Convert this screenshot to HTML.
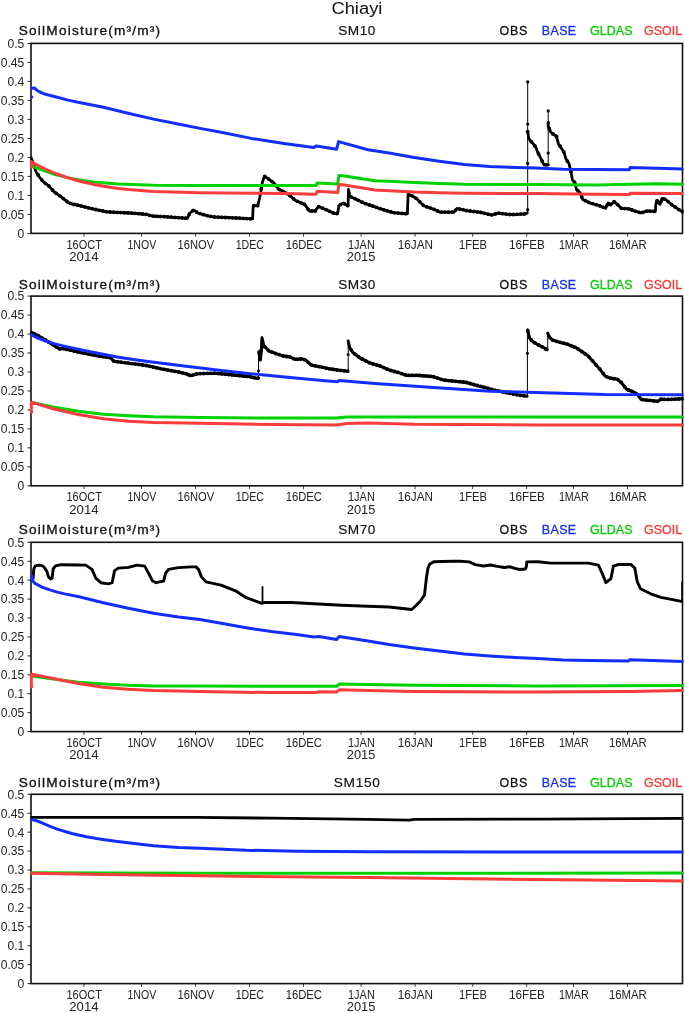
<!DOCTYPE html><html><head><meta charset="utf-8"><style>html,body{margin:0;padding:0;background:#fff;}svg{display:block;will-change:transform;} text{font-family:"Liberation Sans",sans-serif;}</style></head><body>
<svg width="685" height="1013" viewBox="0 0 685 1013">
<rect width="685" height="1013" fill="#fff"/>
<text x="331.4" y="14" font-size="17.3" textLength="51" lengthAdjust="spacingAndGlyphs" fill="#111">Chiayi</text>
<text transform="translate(18.80,35.00) scale(1.1,1)" x="0" y="0" font-size="12.4" text-anchor="start" fill="#111" textLength="128.45" lengthAdjust="spacing" stroke="#111" stroke-width="0.3">SoilMoisture(m³/m³)</text>
<text transform="translate(356.80,35.00) scale(1.1,1)" x="0" y="0" font-size="12.4" text-anchor="middle" fill="#111" textLength="33.82" lengthAdjust="spacing" stroke="#111" stroke-width="0.15">SM10</text>
<text x="499.50" y="35.00" font-size="12.4" text-anchor="start" fill="#111" textLength="27.7" lengthAdjust="spacing" stroke="#111" stroke-width="0.3">OBS</text>
<text x="541.80" y="35.00" font-size="12.4" text-anchor="start" fill="rgb(20,45,255)" textLength="34.3" lengthAdjust="spacing" stroke="rgb(20,45,255)" stroke-width="0.3">BASE</text>
<text x="590.10" y="35.00" font-size="12.4" text-anchor="start" fill="rgb(0,210,0)" textLength="42.3" lengthAdjust="spacing" stroke="rgb(0,210,0)" stroke-width="0.3">GLDAS</text>
<text x="644.10" y="35.00" font-size="12.4" text-anchor="start" fill="rgb(250,60,60)" textLength="38.0" lengthAdjust="spacing" stroke="rgb(250,60,60)" stroke-width="0.3">GSOIL</text>
<text x="24.30" y="237.75" font-size="12.1" text-anchor="end" fill="#222">0</text>
<line x1="27.5" y1="233.40" x2="31.0" y2="233.40" stroke="#222" stroke-width="1"/>
<text x="24.30" y="218.75" font-size="12.1" text-anchor="end" fill="#222">0.05</text>
<line x1="27.5" y1="214.40" x2="31.0" y2="214.40" stroke="#222" stroke-width="1"/>
<text x="24.30" y="199.75" font-size="12.1" text-anchor="end" fill="#222">0.1</text>
<line x1="27.5" y1="195.40" x2="31.0" y2="195.40" stroke="#222" stroke-width="1"/>
<text x="24.30" y="180.75" font-size="12.1" text-anchor="end" fill="#222">0.15</text>
<line x1="27.5" y1="176.40" x2="31.0" y2="176.40" stroke="#222" stroke-width="1"/>
<text x="24.30" y="161.75" font-size="12.1" text-anchor="end" fill="#222">0.2</text>
<line x1="27.5" y1="157.40" x2="31.0" y2="157.40" stroke="#222" stroke-width="1"/>
<text x="24.30" y="142.75" font-size="12.1" text-anchor="end" fill="#222">0.25</text>
<line x1="27.5" y1="138.40" x2="31.0" y2="138.40" stroke="#222" stroke-width="1"/>
<text x="24.30" y="123.75" font-size="12.1" text-anchor="end" fill="#222">0.3</text>
<line x1="27.5" y1="119.40" x2="31.0" y2="119.40" stroke="#222" stroke-width="1"/>
<text x="24.30" y="104.75" font-size="12.1" text-anchor="end" fill="#222">0.35</text>
<line x1="27.5" y1="100.40" x2="31.0" y2="100.40" stroke="#222" stroke-width="1"/>
<text x="24.30" y="85.75" font-size="12.1" text-anchor="end" fill="#222">0.4</text>
<line x1="27.5" y1="81.40" x2="31.0" y2="81.40" stroke="#222" stroke-width="1"/>
<text x="24.30" y="66.75" font-size="12.1" text-anchor="end" fill="#222">0.45</text>
<line x1="27.5" y1="62.40" x2="31.0" y2="62.40" stroke="#222" stroke-width="1"/>
<text x="24.30" y="47.75" font-size="12.1" text-anchor="end" fill="#222">0.5</text>
<line x1="27.5" y1="43.40" x2="31.0" y2="43.40" stroke="#222" stroke-width="1"/>
<line x1="83.90" y1="233.4" x2="83.90" y2="236.70" stroke="#444" stroke-width="1"/>
<text x="84.20" y="248.90" font-size="13.0" text-anchor="middle" fill="#222" textLength="35.4" lengthAdjust="spacingAndGlyphs">16OCT</text>
<text x="83.90" y="261.20" font-size="13.0" text-anchor="middle" fill="#222" textLength="29.200000000000003" lengthAdjust="spacingAndGlyphs">2014</text>
<line x1="141.50" y1="233.4" x2="141.50" y2="236.70" stroke="#444" stroke-width="1"/>
<text x="141.80" y="248.90" font-size="13.0" text-anchor="middle" fill="#222" textLength="28.8" lengthAdjust="spacingAndGlyphs">1NOV</text>
<line x1="195.50" y1="233.4" x2="195.50" y2="236.70" stroke="#444" stroke-width="1"/>
<text x="195.80" y="248.90" font-size="13.0" text-anchor="middle" fill="#222" textLength="36.699999999999996" lengthAdjust="spacingAndGlyphs">16NOV</text>
<line x1="249.50" y1="233.4" x2="249.50" y2="236.70" stroke="#444" stroke-width="1"/>
<text x="249.80" y="248.90" font-size="13.0" text-anchor="middle" fill="#222" textLength="28.3" lengthAdjust="spacingAndGlyphs">1DEC</text>
<line x1="303.50" y1="233.4" x2="303.50" y2="236.70" stroke="#444" stroke-width="1"/>
<text x="303.80" y="248.90" font-size="13.0" text-anchor="middle" fill="#222" textLength="36.3" lengthAdjust="spacingAndGlyphs">16DEC</text>
<line x1="361.10" y1="233.4" x2="361.10" y2="236.70" stroke="#444" stroke-width="1"/>
<text x="361.40" y="248.90" font-size="13.0" text-anchor="middle" fill="#222" textLength="26.8" lengthAdjust="spacingAndGlyphs">1JAN</text>
<text x="361.10" y="261.20" font-size="13.0" text-anchor="middle" fill="#222" textLength="28.6" lengthAdjust="spacingAndGlyphs">2015</text>
<line x1="415.10" y1="233.4" x2="415.10" y2="236.70" stroke="#444" stroke-width="1"/>
<text x="415.40" y="248.90" font-size="13.0" text-anchor="middle" fill="#222" textLength="35.3" lengthAdjust="spacingAndGlyphs">16JAN</text>
<line x1="472.70" y1="233.4" x2="472.70" y2="236.70" stroke="#444" stroke-width="1"/>
<text x="473.00" y="248.90" font-size="13.0" text-anchor="middle" fill="#222" textLength="27.8" lengthAdjust="spacingAndGlyphs">1FEB</text>
<line x1="526.70" y1="233.4" x2="526.70" y2="236.70" stroke="#444" stroke-width="1"/>
<text x="527.00" y="248.90" font-size="13.0" text-anchor="middle" fill="#222" textLength="35.8" lengthAdjust="spacingAndGlyphs">16FEB</text>
<line x1="573.50" y1="233.4" x2="573.50" y2="236.70" stroke="#444" stroke-width="1"/>
<text x="573.80" y="248.90" font-size="13.0" text-anchor="middle" fill="#222" textLength="29.8" lengthAdjust="spacingAndGlyphs">1MAR</text>
<line x1="627.50" y1="233.4" x2="627.50" y2="236.70" stroke="#444" stroke-width="1"/>
<text x="627.80" y="248.90" font-size="13.0" text-anchor="middle" fill="#222" textLength="37.8" lengthAdjust="spacingAndGlyphs">16MAR</text>
<rect x="31.0" y="43.4" width="651.5" height="190.0" fill="none" stroke="#111" stroke-width="1.6"/>
<clipPath id="c0"><rect x="29.5" y="41.4" width="654.0" height="192.0"/></clipPath>
<g clip-path="url(#c0)" fill="none" stroke-linejoin="round" stroke-linecap="round">
<polyline points="31.3,157.9 34.6,167.1 35.9,171.7 39.8,177.6 43.8,182.2 49.0,186.1 54.3,192.0 60.9,196.6 67.4,201.9 71.4,203.9 80.6,205.8 93.7,209.1 106.8,211.8 115.0,212.3 130.0,213.0 146.5,214.3 151.8,216.0 167.6,216.9 187.3,218.3 189.9,213.0 193.8,210.0 197.8,213.0 200.0,213.6 206.6,215.5 213.1,216.9 226.3,217.5 239.4,218.2 252.6,218.9 253.2,205.7 257.8,205.7 259.8,197.2 261.1,190.0 262.4,182.1 264.4,176.2 268.3,178.8 273.6,182.7 278.8,189.3 285.4,192.6 290.3,195.9 295.5,200.5 304.7,204.4 309.3,211.0 315.2,211.0 318.5,206.4 324.4,209.0 334.9,213.6 337.6,213.6 338.9,205.7 342.8,203.1 348.1,205.7 348.5,189.3 350.0,196.5 356.0,199.2 363.8,203.1 370.0,205.2 381.7,209.2 393.4,212.7 407.4,213.9 408.1,194.5 412.1,195.9 416.7,198.7 423.7,205.7 435.4,209.9 440.1,212.2 454.1,212.2 456.9,208.5 468.1,210.8 479.8,212.2 491.5,215.0 498.5,213.2 510.2,214.6 525.4,213.9 527.2,213.0" stroke="#000" stroke-width="2.8"/>
<path d="M34.5 166.8h0M38.1 175.0h0M41.7 179.8h0M45.3 183.3h0M48.9 186.0h0M52.5 190.0h0M56.1 193.3h0M59.7 195.8h0M63.3 198.6h0M66.9 201.5h0M70.5 203.4h0M74.1 204.5h0M77.7 205.2h0M81.3 206.0h0M84.9 206.9h0M88.5 207.8h0M92.1 208.7h0M95.7 209.5h0M99.3 210.3h0M102.9 211.0h0M106.5 211.7h0M110.1 212.0h0M113.7 212.2h0M117.3 212.4h0M120.9 212.6h0M124.5 212.7h0M128.1 212.9h0M131.7 213.1h0M135.3 213.4h0M138.9 213.7h0M142.5 214.0h0M146.1 214.3h0M149.7 215.3h0M153.3 216.1h0M156.9 216.3h0M160.5 216.5h0M164.1 216.7h0M167.7 216.9h0M171.3 217.2h0M174.9 217.4h0M178.5 217.7h0M182.1 217.9h0M185.7 218.2h0M189.3 214.2h0M192.9 210.7h0M196.5 212.0h0M200.1 213.6h0M203.7 214.7h0M207.3 215.7h0M210.9 216.4h0M214.5 217.0h0M218.1 217.1h0M221.7 217.3h0M225.3 217.5h0M228.9 217.6h0M232.5 217.8h0M236.1 218.0h0M239.7 218.2h0M243.3 218.4h0M246.9 218.6h0M250.5 218.8h0M254.1 205.7h0M257.7 205.7h0M261.3 188.8h0M264.9 176.5h0M268.5 178.9h0M272.1 181.6h0M275.7 185.4h0M279.3 189.6h0M282.9 191.3h0M286.5 193.3h0M290.1 195.8h0M293.7 198.9h0M297.3 201.3h0M300.9 202.8h0M304.5 204.3h0M308.1 209.3h0M311.7 211.0h0M315.3 210.9h0M318.9 206.6h0M322.5 208.2h0M326.1 209.7h0M329.7 211.3h0M333.3 212.9h0M336.9 213.6h0M340.5 204.6h0M344.1 203.7h0M347.7 205.5h0M351.3 197.1h0M354.9 198.7h0M358.5 200.4h0M362.1 202.2h0M365.7 203.7h0M369.3 205.0h0M372.9 206.2h0M376.5 207.4h0M380.1 208.7h0M383.7 209.8h0M387.3 210.9h0M390.9 212.0h0M394.5 212.8h0M398.1 213.1h0M401.7 213.4h0M405.3 213.7h0M408.9 194.8h0M412.5 196.1h0M416.1 198.3h0M419.7 201.7h0M423.3 205.3h0M426.9 206.8h0M430.5 208.1h0M434.1 209.4h0M437.7 211.0h0M441.3 212.2h0M444.9 212.2h0M448.5 212.2h0M452.1 212.2h0M455.7 210.1h0M459.3 209.0h0M462.9 209.7h0M466.5 210.5h0M470.1 211.0h0M473.7 211.5h0M477.3 211.9h0M480.9 212.5h0M484.5 213.3h0M488.1 214.2h0M491.7 214.9h0M495.3 214.0h0M498.9 213.2h0M502.5 213.7h0M506.1 214.1h0M509.7 214.5h0M513.3 214.5h0M516.9 214.3h0M520.5 214.1h0M524.1 214.0h0" stroke="#000" stroke-width="3.8"/>
<polyline points="527.7,212.6 527.7,81.9" stroke="#000" stroke-width="1.0"/>
<polyline points="527.7,131.7 528.8,138.6 531.6,142.0 535.7,146.9 537.8,152.4 540.6,157.9 544.0,164.8 547.5,164.8" stroke="#000" stroke-width="2.8"/>
<path d="M527.7 131.7h0M531.3 141.6h0M534.9 145.9h0M538.5 153.8h0M542.1 160.9h0M545.7 164.8h0" stroke="#000" stroke-width="3.8"/>
<polyline points="548.2,164.8 548.2,110.9" stroke="#000" stroke-width="1.0"/>
<polyline points="548.2,122.7 548.2,126.1 550.9,132.4 556.5,136.5 558.5,144.1 560.6,146.9 564.1,152.4 566.1,159.3 568.9,163.4 571.0,171.7 572.4,180.0 575.1,182.8 576.5,189.7 580.0,192.5 582.7,199.4 589.6,202.8 595.0,204.3 600.3,206.0 605.5,208.3 608.1,203.0 610.8,204.7 614.1,201.7 618.0,205.0 621.3,208.3 629.2,208.9 634.4,210.9 641.0,212.9 647.6,210.9 655.4,211.5 655.7,205.6 656.8,200.4 660.0,204.3 662.0,198.4 666.0,199.7 671.2,204.3 677.8,208.9 683.0,212.0" stroke="#000" stroke-width="2.8"/>
<path d="M549.3 128.7h0M552.9 133.9h0M556.5 136.5h0M560.1 146.2h0M563.7 151.8h0M567.3 161.1h0M570.9 171.3h0M574.5 182.2h0M578.1 191.0h0M581.7 196.8h0M585.3 200.7h0M588.9 202.5h0M592.5 203.6h0M596.1 204.7h0M599.7 205.8h0M603.3 207.3h0M606.9 205.4h0M610.5 204.5h0M614.1 201.7h0M617.7 204.7h0M621.3 208.3h0M624.9 208.6h0M628.5 208.8h0M632.1 210.0h0M635.7 211.3h0M639.3 212.4h0M642.9 212.3h0M646.5 211.2h0M650.1 211.1h0M653.7 211.4h0M657.3 201.0h0M660.9 201.6h0M664.5 199.2h0M668.1 201.6h0M671.7 204.6h0M675.3 207.2h0M678.9 209.6h0M682.5 211.7h0" stroke="#000" stroke-width="3.8"/>
<circle cx="527.7" cy="81.9" r="1.6" fill="#000" stroke="none"/>
<circle cx="527.7" cy="124.1" r="1.6" fill="#000" stroke="none"/>
<circle cx="527.7" cy="163.4" r="1.6" fill="#000" stroke="none"/>
<circle cx="527.7" cy="209.7" r="1.6" fill="#000" stroke="none"/>
<circle cx="548.2" cy="110.9" r="1.6" fill="#000" stroke="none"/>
<circle cx="548.2" cy="122.7" r="1.6" fill="#000" stroke="none"/>
<circle cx="548.2" cy="153.1" r="1.6" fill="#000" stroke="none"/>
<circle cx="548.2" cy="164.8" r="1.6" fill="#000" stroke="none"/>
<circle cx="31.9" cy="97.0" r="1.5" fill="rgb(20,45,255)" stroke="none"/>
<polyline points="31.5,88.2 34.4,87.9 36.8,90.2 39.7,92.0 45.5,94.3 51.4,95.8 57.2,97.2 68.0,100.1 78.0,102.2 103.4,107.3 128.0,113.3 153.6,119.1 178.0,124.0 200.0,128.4 221.1,132.3 251.2,138.4 283.9,143.4 314.0,147.4 316.5,145.9 336.6,149.2 338.6,141.6 368.0,149.7 389.1,152.9 414.2,157.4 439.3,161.2 464.4,164.5 489.5,166.5 514.6,167.5 536.0,168.0 563.2,169.3 629.3,169.8 630.2,167.4 683.0,168.9" stroke="rgb(20,45,255)" stroke-width="3.0"/>
<polyline points="31.3,165.8 41.1,169.7 54.3,174.3 67.4,177.6 80.6,180.2 93.7,181.9 118.0,183.9 153.6,185.2 200.0,185.6 285.0,185.4 315.9,185.4 317.2,183.1 337.6,184.1 338.9,175.5 342.8,175.8 375.0,180.8 389.1,181.3 414.2,182.5 439.3,183.5 464.4,184.3 536.0,184.5 595.0,185.0 655.4,183.7 683.0,184.2" stroke="rgb(0,210,0)" stroke-width="3.0"/>
<polyline points="31.3,167.0 31.3,161.5 31.5,161.8 41.1,167.1 54.3,173.0 67.4,177.6 80.6,181.5 93.7,184.4 106.8,186.8 118.0,188.4 128.5,189.6 153.6,191.5 200.0,192.8 285.0,193.6 315.9,194.2 317.2,191.3 337.6,192.6 338.9,184.4 342.8,184.7 375.0,190.0 389.1,190.8 414.2,192.1 439.3,192.8 464.4,193.3 536.0,193.6 595.0,194.2 629.3,194.5 630.3,193.3 683.0,193.4" stroke="rgb(250,60,60)" stroke-width="3.0"/>
</g>
<text transform="translate(18.80,288.60) scale(1.1,1)" x="0" y="0" font-size="12.4" text-anchor="start" fill="#111" textLength="128.45" lengthAdjust="spacing" stroke="#111" stroke-width="0.3">SoilMoisture(m³/m³)</text>
<text transform="translate(356.80,288.60) scale(1.1,1)" x="0" y="0" font-size="12.4" text-anchor="middle" fill="#111" textLength="33.82" lengthAdjust="spacing" stroke="#111" stroke-width="0.15">SM30</text>
<text x="499.50" y="288.60" font-size="12.4" text-anchor="start" fill="#111" textLength="27.7" lengthAdjust="spacing" stroke="#111" stroke-width="0.3">OBS</text>
<text x="541.80" y="288.60" font-size="12.4" text-anchor="start" fill="rgb(20,45,255)" textLength="34.3" lengthAdjust="spacing" stroke="rgb(20,45,255)" stroke-width="0.3">BASE</text>
<text x="590.10" y="288.60" font-size="12.4" text-anchor="start" fill="rgb(0,210,0)" textLength="42.3" lengthAdjust="spacing" stroke="rgb(0,210,0)" stroke-width="0.3">GLDAS</text>
<text x="644.10" y="288.60" font-size="12.4" text-anchor="start" fill="rgb(250,60,60)" textLength="38.0" lengthAdjust="spacing" stroke="rgb(250,60,60)" stroke-width="0.3">GSOIL</text>
<text x="24.30" y="490.15" font-size="12.1" text-anchor="end" fill="#222">0</text>
<line x1="27.5" y1="485.80" x2="31.0" y2="485.80" stroke="#222" stroke-width="1"/>
<text x="24.30" y="471.18" font-size="12.1" text-anchor="end" fill="#222">0.05</text>
<line x1="27.5" y1="466.83" x2="31.0" y2="466.83" stroke="#222" stroke-width="1"/>
<text x="24.30" y="452.21" font-size="12.1" text-anchor="end" fill="#222">0.1</text>
<line x1="27.5" y1="447.86" x2="31.0" y2="447.86" stroke="#222" stroke-width="1"/>
<text x="24.30" y="433.24" font-size="12.1" text-anchor="end" fill="#222">0.15</text>
<line x1="27.5" y1="428.89" x2="31.0" y2="428.89" stroke="#222" stroke-width="1"/>
<text x="24.30" y="414.27" font-size="12.1" text-anchor="end" fill="#222">0.2</text>
<line x1="27.5" y1="409.92" x2="31.0" y2="409.92" stroke="#222" stroke-width="1"/>
<text x="24.30" y="395.30" font-size="12.1" text-anchor="end" fill="#222">0.25</text>
<line x1="27.5" y1="390.95" x2="31.0" y2="390.95" stroke="#222" stroke-width="1"/>
<text x="24.30" y="376.33" font-size="12.1" text-anchor="end" fill="#222">0.3</text>
<line x1="27.5" y1="371.98" x2="31.0" y2="371.98" stroke="#222" stroke-width="1"/>
<text x="24.30" y="357.36" font-size="12.1" text-anchor="end" fill="#222">0.35</text>
<line x1="27.5" y1="353.01" x2="31.0" y2="353.01" stroke="#222" stroke-width="1"/>
<text x="24.30" y="338.39" font-size="12.1" text-anchor="end" fill="#222">0.4</text>
<line x1="27.5" y1="334.04" x2="31.0" y2="334.04" stroke="#222" stroke-width="1"/>
<text x="24.30" y="319.42" font-size="12.1" text-anchor="end" fill="#222">0.45</text>
<line x1="27.5" y1="315.07" x2="31.0" y2="315.07" stroke="#222" stroke-width="1"/>
<text x="24.30" y="300.45" font-size="12.1" text-anchor="end" fill="#222">0.5</text>
<line x1="27.5" y1="296.10" x2="31.0" y2="296.10" stroke="#222" stroke-width="1"/>
<line x1="83.90" y1="485.8" x2="83.90" y2="489.10" stroke="#444" stroke-width="1"/>
<text x="84.20" y="501.30" font-size="13.0" text-anchor="middle" fill="#222" textLength="35.4" lengthAdjust="spacingAndGlyphs">16OCT</text>
<text x="83.90" y="513.60" font-size="13.0" text-anchor="middle" fill="#222" textLength="29.200000000000003" lengthAdjust="spacingAndGlyphs">2014</text>
<line x1="141.50" y1="485.8" x2="141.50" y2="489.10" stroke="#444" stroke-width="1"/>
<text x="141.80" y="501.30" font-size="13.0" text-anchor="middle" fill="#222" textLength="28.8" lengthAdjust="spacingAndGlyphs">1NOV</text>
<line x1="195.50" y1="485.8" x2="195.50" y2="489.10" stroke="#444" stroke-width="1"/>
<text x="195.80" y="501.30" font-size="13.0" text-anchor="middle" fill="#222" textLength="36.699999999999996" lengthAdjust="spacingAndGlyphs">16NOV</text>
<line x1="249.50" y1="485.8" x2="249.50" y2="489.10" stroke="#444" stroke-width="1"/>
<text x="249.80" y="501.30" font-size="13.0" text-anchor="middle" fill="#222" textLength="28.3" lengthAdjust="spacingAndGlyphs">1DEC</text>
<line x1="303.50" y1="485.8" x2="303.50" y2="489.10" stroke="#444" stroke-width="1"/>
<text x="303.80" y="501.30" font-size="13.0" text-anchor="middle" fill="#222" textLength="36.3" lengthAdjust="spacingAndGlyphs">16DEC</text>
<line x1="361.10" y1="485.8" x2="361.10" y2="489.10" stroke="#444" stroke-width="1"/>
<text x="361.40" y="501.30" font-size="13.0" text-anchor="middle" fill="#222" textLength="26.8" lengthAdjust="spacingAndGlyphs">1JAN</text>
<text x="361.10" y="513.60" font-size="13.0" text-anchor="middle" fill="#222" textLength="28.6" lengthAdjust="spacingAndGlyphs">2015</text>
<line x1="415.10" y1="485.8" x2="415.10" y2="489.10" stroke="#444" stroke-width="1"/>
<text x="415.40" y="501.30" font-size="13.0" text-anchor="middle" fill="#222" textLength="35.3" lengthAdjust="spacingAndGlyphs">16JAN</text>
<line x1="472.70" y1="485.8" x2="472.70" y2="489.10" stroke="#444" stroke-width="1"/>
<text x="473.00" y="501.30" font-size="13.0" text-anchor="middle" fill="#222" textLength="27.8" lengthAdjust="spacingAndGlyphs">1FEB</text>
<line x1="526.70" y1="485.8" x2="526.70" y2="489.10" stroke="#444" stroke-width="1"/>
<text x="527.00" y="501.30" font-size="13.0" text-anchor="middle" fill="#222" textLength="35.8" lengthAdjust="spacingAndGlyphs">16FEB</text>
<line x1="573.50" y1="485.8" x2="573.50" y2="489.10" stroke="#444" stroke-width="1"/>
<text x="573.80" y="501.30" font-size="13.0" text-anchor="middle" fill="#222" textLength="29.8" lengthAdjust="spacingAndGlyphs">1MAR</text>
<line x1="627.50" y1="485.8" x2="627.50" y2="489.10" stroke="#444" stroke-width="1"/>
<text x="627.80" y="501.30" font-size="13.0" text-anchor="middle" fill="#222" textLength="37.8" lengthAdjust="spacingAndGlyphs">16MAR</text>
<rect x="31.0" y="296.1" width="651.5" height="189.7" fill="none" stroke="#111" stroke-width="1.6"/>
<clipPath id="c1"><rect x="29.5" y="294.1" width="654.0" height="191.7"/></clipPath>
<g clip-path="url(#c1)" fill="none" stroke-linejoin="round" stroke-linecap="round">
<polyline points="31.5,332.3 38.5,335.8 45.5,340.1 52.5,344.5 59.5,348.9 63.0,348.5 80.5,352.4 98.0,355.9 110.3,357.7 113.8,361.2 133.1,363.8 145.0,365.3 162.5,369.1 180.0,372.3 187.0,374.0 190.5,375.8 197.5,373.7 215.0,373.2 232.6,374.9 250.1,376.7 257.1,378.4 258.5,378.0" stroke="#000" stroke-width="3.1"/>
<path d="M34.5 333.8h0M38.1 335.6h0M41.7 337.8h0M45.3 340.0h0M48.9 342.2h0M52.5 344.5h0M56.1 346.8h0M59.7 348.9h0M63.3 348.6h0M66.9 349.4h0M70.5 350.2h0M74.1 351.0h0M77.7 351.8h0M81.3 352.6h0M84.9 353.3h0M88.5 354.0h0M92.1 354.7h0M95.7 355.4h0M99.3 356.1h0M102.9 356.6h0M106.5 357.1h0M110.1 357.7h0M113.7 361.1h0M117.3 361.7h0M120.9 362.2h0M124.5 362.6h0M128.1 363.1h0M131.7 363.6h0M135.3 364.1h0M138.9 364.5h0M142.5 365.0h0M146.1 365.5h0M149.7 366.3h0M153.3 367.1h0M156.9 367.9h0M160.5 368.7h0M164.1 369.4h0M167.7 370.1h0M171.3 370.7h0M174.9 371.4h0M178.5 372.0h0M182.1 372.8h0M185.7 373.7h0M189.3 375.2h0M192.9 375.1h0M196.5 374.0h0M200.1 373.6h0M203.7 373.5h0M207.3 373.4h0M210.9 373.3h0M214.5 373.2h0M218.1 373.5h0M221.7 373.8h0M225.3 374.2h0M228.9 374.5h0M232.5 374.9h0M236.1 375.3h0M239.7 375.6h0M243.3 376.0h0M246.9 376.4h0M250.5 376.8h0M254.1 377.7h0M257.7 378.2h0" stroke="#000" stroke-width="3.8"/>
<polyline points="258.5,378.2 258.5,351.0" stroke="#000" stroke-width="1.0"/>
<polyline points="258.8,351.9 260.3,360.0 261.2,352.0 262.0,337.9 263.8,345.8 265.5,347.5 269.0,351.0 276.0,353.6 283.0,355.9 290.0,357.1 295.3,359.4 302.3,358.9 305.8,360.1 311.0,365.0 319.8,366.8 330.3,368.9 339.1,370.3 347.8,371.2" stroke="#000" stroke-width="3.1"/>
<path d="M261.3 350.2h0M264.9 346.9h0M268.5 350.5h0M272.1 352.2h0M275.7 353.5h0M279.3 354.7h0M282.9 355.9h0M286.5 356.5h0M290.1 357.1h0M293.7 358.7h0M297.3 359.3h0M300.9 359.0h0M304.5 359.7h0M308.1 362.3h0M311.7 365.1h0M315.3 365.9h0M318.9 366.6h0M322.5 367.3h0M326.1 368.1h0M329.7 368.8h0M333.3 369.4h0M336.9 369.9h0M340.5 370.4h0M344.1 370.8h0M347.7 371.2h0" stroke="#000" stroke-width="3.8"/>
<polyline points="348.2,371.2 348.2,340.9" stroke="#000" stroke-width="1.0"/>
<polyline points="348.2,341.0 349.6,347.5 353.1,352.8 360.1,358.0 367.1,361.5 370.0,363.1 380.5,366.1 389.3,370.1 398.0,372.4 406.8,375.4 419.0,375.4 433.0,376.6 443.6,380.1 457.6,381.5 466.3,382.4 478.6,385.9 485.0,387.4 493.8,390.0 502.5,391.8 511.3,393.6 520.0,395.3 527.0,396.2" stroke="#000" stroke-width="3.1"/>
<path d="M351.3 350.1h0M354.9 354.1h0M358.5 356.8h0M362.1 359.0h0M365.7 360.8h0M369.3 362.7h0M372.9 363.9h0M376.5 365.0h0M380.1 366.0h0M383.7 367.6h0M387.3 369.2h0M390.9 370.5h0M394.5 371.5h0M398.1 372.4h0M401.7 373.7h0M405.3 374.9h0M408.9 375.4h0M412.5 375.4h0M416.1 375.4h0M419.7 375.5h0M423.3 375.8h0M426.9 376.1h0M430.5 376.4h0M434.1 377.0h0M437.7 378.2h0M441.3 379.3h0M444.9 380.2h0M448.5 380.6h0M452.1 380.9h0M455.7 381.3h0M459.3 381.7h0M462.9 382.0h0M466.5 382.5h0M470.1 383.5h0M473.7 384.5h0M477.3 385.5h0M480.9 386.4h0M484.5 387.3h0M488.1 388.3h0M491.7 389.4h0M495.3 390.3h0M498.9 391.1h0M502.5 391.8h0M506.1 392.5h0M509.7 393.3h0M513.3 394.0h0M516.9 394.7h0M520.5 395.4h0M524.1 395.8h0" stroke="#000" stroke-width="3.8"/>
<polyline points="527.4,396.2 527.4,329.6" stroke="#000" stroke-width="1.0"/>
<polyline points="527.5,330.0 527.9,331.4 529.7,338.4 533.2,341.9 537.5,344.5 542.8,347.1 547.2,349.8" stroke="#000" stroke-width="3.1"/>
<path d="M527.7 330.7h0M531.3 340.0h0M534.9 342.9h0M538.5 345.0h0M542.1 346.8h0M545.7 348.9h0" stroke="#000" stroke-width="3.8"/>
<polyline points="547.7,349.8 547.7,333.1" stroke="#000" stroke-width="1.0"/>
<polyline points="547.8,333.3 548.9,336.6 552.4,340.1 558.6,341.9 567.3,344.2 576.1,347.7 583.1,352.4 587.9,355.7 593.8,362.3 599.6,368.9 605.4,376.2 609.8,378.1 617.1,379.1 621.5,382.7 626.6,389.3 633.2,391.8 637.6,394.4 641.2,399.5 650.7,400.5 658.0,401.4 660.9,399.1 666.8,399.5 683.0,398.8" stroke="#000" stroke-width="3.1"/>
<path d="M549.3 337.0h0M552.9 340.2h0M556.5 341.3h0M560.1 342.3h0M563.7 343.2h0M567.3 344.2h0M570.9 345.6h0M574.5 347.1h0M578.1 349.0h0M581.7 351.5h0M585.3 353.9h0M588.9 356.8h0M592.5 360.8h0M596.1 364.9h0M599.7 369.0h0M603.3 373.6h0M606.9 376.8h0M610.5 378.2h0M614.1 378.7h0M617.7 379.6h0M621.3 382.5h0M624.9 387.1h0M628.5 390.0h0M632.1 391.4h0M635.7 393.3h0M639.3 396.8h0M642.9 399.7h0M646.5 400.1h0M650.1 400.4h0M653.7 400.9h0M657.3 401.3h0M660.9 399.1h0M664.5 399.3h0M668.1 399.4h0M671.7 399.3h0M675.3 399.1h0M678.9 399.0h0M682.5 398.8h0" stroke="#000" stroke-width="3.8"/>
<circle cx="258.5" cy="370.8" r="1.5" fill="#000" stroke="none"/>
<circle cx="348.2" cy="354.5" r="1.5" fill="#000" stroke="none"/>
<circle cx="527.4" cy="353.3" r="1.5" fill="#000" stroke="none"/>
<polyline points="31.5,334.9 38.0,338.2 45.5,341.0 54.0,343.6 63.0,345.9 80.5,349.8 98.0,353.3 115.6,356.8 133.1,359.4 148.0,361.5 180.0,365.6 215.0,369.7 250.1,373.7 290.0,377.6 325.0,380.8 337.3,381.7 339.1,380.4 375.0,383.4 422.5,386.8 490.0,391.2 527.0,392.2 605.0,394.4 683.0,394.7" stroke="rgb(20,45,255)" stroke-width="3.0"/>
<polyline points="31.8,402.4 53.1,407.0 78.2,411.2 103.3,414.2 128.4,415.7 153.5,416.7 200.0,417.5 271.3,418.0 336.6,418.0 346.6,417.0 683.0,417.0" stroke="rgb(0,210,0)" stroke-width="3.0"/>
<circle cx="31.4" cy="412" r="1.6" fill="rgb(250,60,60)" stroke="none"/>
<polyline points="31.3,412.0 31.3,402.5 31.8,402.4 53.1,408.7 78.2,414.5 103.3,418.7 128.4,421.2 153.5,422.5 200.0,423.2 271.3,424.5 336.6,425.0 346.6,423.5 368.0,423.0 414.0,424.3 536.0,425.0 683.0,425.0" stroke="rgb(250,60,60)" stroke-width="3.0"/>
</g>
<text transform="translate(18.80,534.10) scale(1.1,1)" x="0" y="0" font-size="12.4" text-anchor="start" fill="#111" textLength="128.45" lengthAdjust="spacing" stroke="#111" stroke-width="0.3">SoilMoisture(m³/m³)</text>
<text transform="translate(356.80,534.10) scale(1.1,1)" x="0" y="0" font-size="12.4" text-anchor="middle" fill="#111" textLength="33.82" lengthAdjust="spacing" stroke="#111" stroke-width="0.15">SM70</text>
<text x="499.50" y="534.10" font-size="12.4" text-anchor="start" fill="#111" textLength="27.7" lengthAdjust="spacing" stroke="#111" stroke-width="0.3">OBS</text>
<text x="541.80" y="534.10" font-size="12.4" text-anchor="start" fill="rgb(20,45,255)" textLength="34.3" lengthAdjust="spacing" stroke="rgb(20,45,255)" stroke-width="0.3">BASE</text>
<text x="590.10" y="534.10" font-size="12.4" text-anchor="start" fill="rgb(0,210,0)" textLength="42.3" lengthAdjust="spacing" stroke="rgb(0,210,0)" stroke-width="0.3">GLDAS</text>
<text x="644.10" y="534.10" font-size="12.4" text-anchor="start" fill="rgb(250,60,60)" textLength="38.0" lengthAdjust="spacing" stroke="rgb(250,60,60)" stroke-width="0.3">GSOIL</text>
<text x="24.30" y="735.95" font-size="12.1" text-anchor="end" fill="#222">0</text>
<line x1="27.5" y1="731.60" x2="31.0" y2="731.60" stroke="#222" stroke-width="1"/>
<text x="24.30" y="717.02" font-size="12.1" text-anchor="end" fill="#222">0.05</text>
<line x1="27.5" y1="712.67" x2="31.0" y2="712.67" stroke="#222" stroke-width="1"/>
<text x="24.30" y="698.09" font-size="12.1" text-anchor="end" fill="#222">0.1</text>
<line x1="27.5" y1="693.74" x2="31.0" y2="693.74" stroke="#222" stroke-width="1"/>
<text x="24.30" y="679.16" font-size="12.1" text-anchor="end" fill="#222">0.15</text>
<line x1="27.5" y1="674.81" x2="31.0" y2="674.81" stroke="#222" stroke-width="1"/>
<text x="24.30" y="660.23" font-size="12.1" text-anchor="end" fill="#222">0.2</text>
<line x1="27.5" y1="655.88" x2="31.0" y2="655.88" stroke="#222" stroke-width="1"/>
<text x="24.30" y="641.30" font-size="12.1" text-anchor="end" fill="#222">0.25</text>
<line x1="27.5" y1="636.95" x2="31.0" y2="636.95" stroke="#222" stroke-width="1"/>
<text x="24.30" y="622.37" font-size="12.1" text-anchor="end" fill="#222">0.3</text>
<line x1="27.5" y1="618.02" x2="31.0" y2="618.02" stroke="#222" stroke-width="1"/>
<text x="24.30" y="603.44" font-size="12.1" text-anchor="end" fill="#222">0.35</text>
<line x1="27.5" y1="599.09" x2="31.0" y2="599.09" stroke="#222" stroke-width="1"/>
<text x="24.30" y="584.51" font-size="12.1" text-anchor="end" fill="#222">0.4</text>
<line x1="27.5" y1="580.16" x2="31.0" y2="580.16" stroke="#222" stroke-width="1"/>
<text x="24.30" y="565.58" font-size="12.1" text-anchor="end" fill="#222">0.45</text>
<line x1="27.5" y1="561.23" x2="31.0" y2="561.23" stroke="#222" stroke-width="1"/>
<text x="24.30" y="546.65" font-size="12.1" text-anchor="end" fill="#222">0.5</text>
<line x1="27.5" y1="542.30" x2="31.0" y2="542.30" stroke="#222" stroke-width="1"/>
<line x1="83.90" y1="731.6" x2="83.90" y2="734.90" stroke="#444" stroke-width="1"/>
<text x="84.20" y="747.10" font-size="13.0" text-anchor="middle" fill="#222" textLength="35.4" lengthAdjust="spacingAndGlyphs">16OCT</text>
<text x="83.90" y="759.40" font-size="13.0" text-anchor="middle" fill="#222" textLength="29.200000000000003" lengthAdjust="spacingAndGlyphs">2014</text>
<line x1="141.50" y1="731.6" x2="141.50" y2="734.90" stroke="#444" stroke-width="1"/>
<text x="141.80" y="747.10" font-size="13.0" text-anchor="middle" fill="#222" textLength="28.8" lengthAdjust="spacingAndGlyphs">1NOV</text>
<line x1="195.50" y1="731.6" x2="195.50" y2="734.90" stroke="#444" stroke-width="1"/>
<text x="195.80" y="747.10" font-size="13.0" text-anchor="middle" fill="#222" textLength="36.699999999999996" lengthAdjust="spacingAndGlyphs">16NOV</text>
<line x1="249.50" y1="731.6" x2="249.50" y2="734.90" stroke="#444" stroke-width="1"/>
<text x="249.80" y="747.10" font-size="13.0" text-anchor="middle" fill="#222" textLength="28.3" lengthAdjust="spacingAndGlyphs">1DEC</text>
<line x1="303.50" y1="731.6" x2="303.50" y2="734.90" stroke="#444" stroke-width="1"/>
<text x="303.80" y="747.10" font-size="13.0" text-anchor="middle" fill="#222" textLength="36.3" lengthAdjust="spacingAndGlyphs">16DEC</text>
<line x1="361.10" y1="731.6" x2="361.10" y2="734.90" stroke="#444" stroke-width="1"/>
<text x="361.40" y="747.10" font-size="13.0" text-anchor="middle" fill="#222" textLength="26.8" lengthAdjust="spacingAndGlyphs">1JAN</text>
<text x="361.10" y="759.40" font-size="13.0" text-anchor="middle" fill="#222" textLength="28.6" lengthAdjust="spacingAndGlyphs">2015</text>
<line x1="415.10" y1="731.6" x2="415.10" y2="734.90" stroke="#444" stroke-width="1"/>
<text x="415.40" y="747.10" font-size="13.0" text-anchor="middle" fill="#222" textLength="35.3" lengthAdjust="spacingAndGlyphs">16JAN</text>
<line x1="472.70" y1="731.6" x2="472.70" y2="734.90" stroke="#444" stroke-width="1"/>
<text x="473.00" y="747.10" font-size="13.0" text-anchor="middle" fill="#222" textLength="27.8" lengthAdjust="spacingAndGlyphs">1FEB</text>
<line x1="526.70" y1="731.6" x2="526.70" y2="734.90" stroke="#444" stroke-width="1"/>
<text x="527.00" y="747.10" font-size="13.0" text-anchor="middle" fill="#222" textLength="35.8" lengthAdjust="spacingAndGlyphs">16FEB</text>
<line x1="573.50" y1="731.6" x2="573.50" y2="734.90" stroke="#444" stroke-width="1"/>
<text x="573.80" y="747.10" font-size="13.0" text-anchor="middle" fill="#222" textLength="29.8" lengthAdjust="spacingAndGlyphs">1MAR</text>
<line x1="627.50" y1="731.6" x2="627.50" y2="734.90" stroke="#444" stroke-width="1"/>
<text x="627.80" y="747.10" font-size="13.0" text-anchor="middle" fill="#222" textLength="37.8" lengthAdjust="spacingAndGlyphs">16MAR</text>
<rect x="31.0" y="542.3" width="651.5" height="189.30000000000007" fill="none" stroke="#111" stroke-width="1.6"/>
<clipPath id="c2"><rect x="29.5" y="540.3" width="654.0" height="191.30000000000007"/></clipPath>
<g clip-path="url(#c2)" fill="none" stroke-linejoin="round" stroke-linecap="round">
<polyline points="32.5,580.0 33.1,578.2 33.8,568.8 35.3,565.8 39.0,565.1 42.6,565.8 44.8,568.0 47.0,571.7 48.4,576.8 50.6,579.0 52.1,578.2 53.2,568.8 55.7,565.8 60.8,564.7 78.0,565.0 85.7,565.1 92.0,569.4 95.8,578.2 100.8,582.7 108.3,583.9 112.1,582.7 114.6,570.6 118.4,568.1 128.4,567.4 137.2,565.1 144.7,566.1 148.5,573.1 152.3,580.7 156.0,582.7 163.6,581.2 165.6,573.1 168.6,569.4 178.6,567.6 191.2,566.9 196.0,566.9 198.5,569.4 201.5,576.9 206.0,581.9 221.1,585.2 236.2,591.2 246.2,597.7 261.3,603.2" stroke="#000" stroke-width="2.9"/>
<polyline points="262.5,603.2 262.5,586.9" stroke="#000" stroke-width="1.8"/>
<polyline points="262.5,603.0 264.3,602.5 291.4,602.5 314.0,603.7 341.6,605.3 368.0,606.3 389.1,607.0 411.7,609.5 416.3,605.2 420.0,601.5 424.5,595.0 425.6,585.0 426.6,576.5 428.0,568.0 429.6,564.3 433.7,561.8 451.9,561.3 460.0,561.3 469.3,561.9 475.2,564.6 483.4,566.0 490.4,565.0 497.4,566.4 504.4,567.5 510.2,566.8 514.9,568.4 519.6,569.5 525.4,569.0 526.5,566.0 526.8,561.9 538.1,561.8 550.7,563.1 588.3,563.1 598.4,565.1 602.1,573.1 605.9,582.7 610.9,578.7 613.4,566.1 618.4,564.5 631.0,564.5 634.8,568.1 637.3,581.9 640.5,588.7 650.7,593.8 660.9,597.4 672.6,599.6 681.4,601.4" stroke="#000" stroke-width="2.9"/>
<polyline points="681.7,602.0 681.7,582.0" stroke="#000" stroke-width="1.0"/>
<polyline points="32.0,575.7 32.4,580.4 35.3,583.7 42.6,587.4 49.9,589.9 57.2,592.1 64.5,593.9 78.0,596.5 103.3,602.7 128.4,608.3 153.5,613.3 178.6,617.0 200.0,619.6 221.1,623.3 246.2,627.8 271.3,631.6 296.4,634.6 314.0,637.1 319.0,636.6 336.6,639.4 339.1,636.6 368.0,640.9 389.1,644.6 414.2,647.9 439.3,650.9 464.4,653.9 489.5,655.9 514.6,657.5 538.1,658.5 563.2,660.0 588.3,660.5 628.5,661.0 629.7,659.7 683.0,661.5" stroke="rgb(20,45,255)" stroke-width="3.0"/>
<polyline points="31.8,676.0 53.1,679.0 78.2,682.3 103.3,684.0 128.4,685.3 153.5,686.0 200.0,686.0 271.3,686.3 336.6,686.3 339.1,684.0 368.0,684.5 414.2,685.3 536.0,686.0 683.0,685.6" stroke="rgb(0,210,0)" stroke-width="3.0"/>
<circle cx="31.3" cy="686.8" r="1.6" fill="rgb(250,60,60)" stroke="none"/>
<polyline points="31.3,686.8 31.3,674.4 31.8,674.3 53.1,678.5 78.2,683.5 103.3,687.3 128.4,689.3 153.5,690.6 200.0,691.6 271.3,692.6 316.5,692.6 319.0,691.8 336.6,692.1 339.1,689.8 368.0,690.6 414.2,691.6 536.0,692.1 628.5,691.6 683.0,690.6" stroke="rgb(250,60,60)" stroke-width="3.0"/>
</g>
<text transform="translate(18.80,786.80) scale(1.1,1)" x="0" y="0" font-size="12.4" text-anchor="start" fill="#111" textLength="128.45" lengthAdjust="spacing" stroke="#111" stroke-width="0.3">SoilMoisture(m³/m³)</text>
<text transform="translate(356.80,786.80) scale(1.1,1)" x="0" y="0" font-size="12.4" text-anchor="middle" fill="#111" textLength="41.91" lengthAdjust="spacing" stroke="#111" stroke-width="0.15">SM150</text>
<text x="499.50" y="786.80" font-size="12.4" text-anchor="start" fill="#111" textLength="27.7" lengthAdjust="spacing" stroke="#111" stroke-width="0.3">OBS</text>
<text x="541.80" y="786.80" font-size="12.4" text-anchor="start" fill="rgb(20,45,255)" textLength="34.3" lengthAdjust="spacing" stroke="rgb(20,45,255)" stroke-width="0.3">BASE</text>
<text x="590.10" y="786.80" font-size="12.4" text-anchor="start" fill="rgb(0,210,0)" textLength="42.3" lengthAdjust="spacing" stroke="rgb(0,210,0)" stroke-width="0.3">GLDAS</text>
<text x="644.10" y="786.80" font-size="12.4" text-anchor="start" fill="rgb(250,60,60)" textLength="38.0" lengthAdjust="spacing" stroke="rgb(250,60,60)" stroke-width="0.3">GSOIL</text>
<text x="24.30" y="987.95" font-size="12.1" text-anchor="end" fill="#222">0</text>
<line x1="27.5" y1="983.60" x2="31.0" y2="983.60" stroke="#222" stroke-width="1"/>
<text x="24.30" y="969.02" font-size="12.1" text-anchor="end" fill="#222">0.05</text>
<line x1="27.5" y1="964.67" x2="31.0" y2="964.67" stroke="#222" stroke-width="1"/>
<text x="24.30" y="950.09" font-size="12.1" text-anchor="end" fill="#222">0.1</text>
<line x1="27.5" y1="945.74" x2="31.0" y2="945.74" stroke="#222" stroke-width="1"/>
<text x="24.30" y="931.16" font-size="12.1" text-anchor="end" fill="#222">0.15</text>
<line x1="27.5" y1="926.81" x2="31.0" y2="926.81" stroke="#222" stroke-width="1"/>
<text x="24.30" y="912.23" font-size="12.1" text-anchor="end" fill="#222">0.2</text>
<line x1="27.5" y1="907.88" x2="31.0" y2="907.88" stroke="#222" stroke-width="1"/>
<text x="24.30" y="893.30" font-size="12.1" text-anchor="end" fill="#222">0.25</text>
<line x1="27.5" y1="888.95" x2="31.0" y2="888.95" stroke="#222" stroke-width="1"/>
<text x="24.30" y="874.37" font-size="12.1" text-anchor="end" fill="#222">0.3</text>
<line x1="27.5" y1="870.02" x2="31.0" y2="870.02" stroke="#222" stroke-width="1"/>
<text x="24.30" y="855.44" font-size="12.1" text-anchor="end" fill="#222">0.35</text>
<line x1="27.5" y1="851.09" x2="31.0" y2="851.09" stroke="#222" stroke-width="1"/>
<text x="24.30" y="836.51" font-size="12.1" text-anchor="end" fill="#222">0.4</text>
<line x1="27.5" y1="832.16" x2="31.0" y2="832.16" stroke="#222" stroke-width="1"/>
<text x="24.30" y="817.58" font-size="12.1" text-anchor="end" fill="#222">0.45</text>
<line x1="27.5" y1="813.23" x2="31.0" y2="813.23" stroke="#222" stroke-width="1"/>
<text x="24.30" y="798.65" font-size="12.1" text-anchor="end" fill="#222">0.5</text>
<line x1="27.5" y1="794.30" x2="31.0" y2="794.30" stroke="#222" stroke-width="1"/>
<line x1="83.90" y1="983.6" x2="83.90" y2="986.90" stroke="#444" stroke-width="1"/>
<text x="84.20" y="999.10" font-size="13.0" text-anchor="middle" fill="#222" textLength="35.4" lengthAdjust="spacingAndGlyphs">16OCT</text>
<text x="83.90" y="1011.40" font-size="13.0" text-anchor="middle" fill="#222" textLength="29.200000000000003" lengthAdjust="spacingAndGlyphs">2014</text>
<line x1="141.50" y1="983.6" x2="141.50" y2="986.90" stroke="#444" stroke-width="1"/>
<text x="141.80" y="999.10" font-size="13.0" text-anchor="middle" fill="#222" textLength="28.8" lengthAdjust="spacingAndGlyphs">1NOV</text>
<line x1="195.50" y1="983.6" x2="195.50" y2="986.90" stroke="#444" stroke-width="1"/>
<text x="195.80" y="999.10" font-size="13.0" text-anchor="middle" fill="#222" textLength="36.699999999999996" lengthAdjust="spacingAndGlyphs">16NOV</text>
<line x1="249.50" y1="983.6" x2="249.50" y2="986.90" stroke="#444" stroke-width="1"/>
<text x="249.80" y="999.10" font-size="13.0" text-anchor="middle" fill="#222" textLength="28.3" lengthAdjust="spacingAndGlyphs">1DEC</text>
<line x1="303.50" y1="983.6" x2="303.50" y2="986.90" stroke="#444" stroke-width="1"/>
<text x="303.80" y="999.10" font-size="13.0" text-anchor="middle" fill="#222" textLength="36.3" lengthAdjust="spacingAndGlyphs">16DEC</text>
<line x1="361.10" y1="983.6" x2="361.10" y2="986.90" stroke="#444" stroke-width="1"/>
<text x="361.40" y="999.10" font-size="13.0" text-anchor="middle" fill="#222" textLength="26.8" lengthAdjust="spacingAndGlyphs">1JAN</text>
<text x="361.10" y="1011.40" font-size="13.0" text-anchor="middle" fill="#222" textLength="28.6" lengthAdjust="spacingAndGlyphs">2015</text>
<line x1="415.10" y1="983.6" x2="415.10" y2="986.90" stroke="#444" stroke-width="1"/>
<text x="415.40" y="999.10" font-size="13.0" text-anchor="middle" fill="#222" textLength="35.3" lengthAdjust="spacingAndGlyphs">16JAN</text>
<line x1="472.70" y1="983.6" x2="472.70" y2="986.90" stroke="#444" stroke-width="1"/>
<text x="473.00" y="999.10" font-size="13.0" text-anchor="middle" fill="#222" textLength="27.8" lengthAdjust="spacingAndGlyphs">1FEB</text>
<line x1="526.70" y1="983.6" x2="526.70" y2="986.90" stroke="#444" stroke-width="1"/>
<text x="527.00" y="999.10" font-size="13.0" text-anchor="middle" fill="#222" textLength="35.8" lengthAdjust="spacingAndGlyphs">16FEB</text>
<line x1="573.50" y1="983.6" x2="573.50" y2="986.90" stroke="#444" stroke-width="1"/>
<text x="573.80" y="999.10" font-size="13.0" text-anchor="middle" fill="#222" textLength="29.8" lengthAdjust="spacingAndGlyphs">1MAR</text>
<line x1="627.50" y1="983.6" x2="627.50" y2="986.90" stroke="#444" stroke-width="1"/>
<text x="627.80" y="999.10" font-size="13.0" text-anchor="middle" fill="#222" textLength="37.8" lengthAdjust="spacingAndGlyphs">16MAR</text>
<rect x="31.0" y="794.3" width="651.5" height="189.30000000000007" fill="none" stroke="#111" stroke-width="1.6"/>
<clipPath id="c3"><rect x="29.5" y="792.3" width="654.0" height="191.30000000000007"/></clipPath>
<g clip-path="url(#c3)" fill="none" stroke-linejoin="round" stroke-linecap="round">
<polyline points="31.8,817.4 196.0,817.4 271.3,818.1 368.0,819.4 409.2,820.1 414.2,819.4 536.0,819.1 683.0,818.4" stroke="#000" stroke-width="2.9"/>
<polyline points="31.6,819.6 36.8,820.8 42.6,823.2 50.0,826.3 57.2,829.1 71.8,833.5 86.4,836.8 101.0,839.3 115.6,841.2 128.0,842.7 153.5,845.7 178.6,847.5 200.0,848.2 246.2,850.2 296.4,851.2 368.0,851.7 536.0,852.1 683.0,852.0" stroke="rgb(20,45,255)" stroke-width="3.0"/>
<polyline points="31.8,872.8 200.0,873.3 683.0,873.1" stroke="rgb(0,210,0)" stroke-width="3.0"/>
<polyline points="31.8,873.3 103.3,874.6 200.0,875.8 368.0,877.6 536.0,879.6 683.0,881.1" stroke="rgb(250,60,60)" stroke-width="3.0"/>
</g>
</svg></body></html>
